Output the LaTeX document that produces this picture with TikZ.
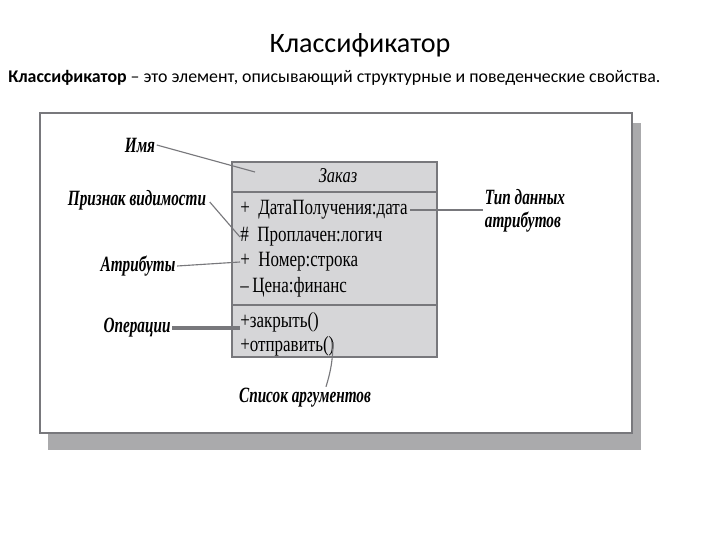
\documentclass[tikz,border=0pt]{standalone}
\usepackage{fontspec}
\setmainfont{Carlito}
\newfontfamily\umlfont[FakeStretch=0.78]{Liberation Serif}
\newfontfamily\notefont[FakeStretch=0.7]{Liberation Serif}

\definecolor{boxgray}{RGB}{214,214,216}
\definecolor{linegray}{RGB}{120,120,124}
\definecolor{shadowgray}{RGB}{170,170,172}

\begin{document}
\begin{tikzpicture}[x=0.025cm, y=-0.025cm,
		note/.style = {font=\notefont\bfseries\itshape\fontsize{15.5}{16}\selectfont, inner sep=1pt},
		member/.style = {font=\umlfont\fontsize{15.5}{16}\selectfont, anchor=west, inner sep=0pt},
		lead/.style = {linegray, line width=0.8pt},
	]
	\useasboundingbox (0,0) rectangle (720,540);
	\node (title) at (360,45) {\fontsize{20}{22}\selectfont Классификатор};
	\node[anchor=west, inner sep=0pt] (def) at (8,78) {\fontsize{12.7}{14}\selectfont \textbf{Классификатор} – это элемент, описывающий структурные и поведенческие свойства.};

	% frame with shadow
	\fill[shadowgray] (48,123) rectangle (641,450);
	\draw[linegray, fill=white, line width=1.2pt] (40,113) rectangle (632,433);

	% class box
	\draw[linegray, fill=boxgray, line width=1pt] (232,162) rectangle (437,357);
	\draw[linegray, line width=1pt] (232,192) -- (437,192);
	\draw[linegray, line width=1pt] (232,305) -- (437,305);
	\node[font=\umlfont\itshape\fontsize{15}{16}\selectfont] (name) at (338,176) {Заказ};
	\node[member] (a1) at (240,210) {+\ \ ДатаПолучения:дата};
	\node[member] (a2) at (240,237) {\#\ \ Проплачен:логич};
	\node[member] (a3) at (240,262) {+\ \ Номер:строка};
	\node[member] (a4) at (240,287) {–\,Цена:финанс};
	\node[member] (o1) at (240,322) {+закрыть()};
	\node[member] (o2) at (240,346) {+отправить()};

	% annotations
	\node[note] (imya) at (140,145) {Имя};
	\node[note] (vis) at (137,200) {Признак видимости};
	\node[note] (attr) at (138,266) {Атрибуты};
	\node[note] (ops) at (137,328) {Операции};
	\node[note, align=left] (type) at (525,211) {Тип данных\\атрибутов};
	\node[note] (args) at (305,398) {Список аргументов};

	\coordinate (namept) at (255,172);
	\coordinate (typept) at (410,210);
	\coordinate (argpt) at (333,342);

	\draw[lead] (imya.east) -- (namept);
	\draw[lead] (vis.east) ++(2,2) -- (a2.west);
	\draw[lead] (attr.east) -- (a3.west);
	\draw[lead, line width=2.2pt] (ops.east) -- (ops.east -| o1.west);
	\draw[lead] (typept) -- (type.west |- typept);
	\draw[lead] (argpt) to[bend left=8] (args.north -| 326,0);
\end{tikzpicture}
\end{document}
